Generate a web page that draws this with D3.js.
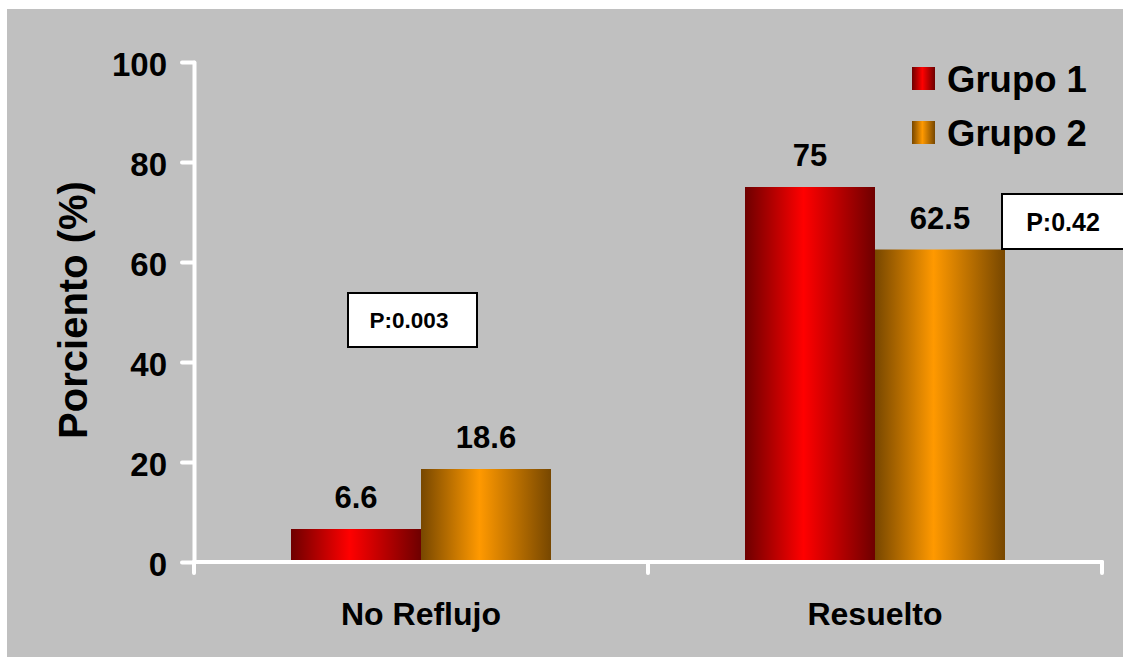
<!DOCTYPE html>
<html>
<head>
<meta charset="utf-8">
<script src="https://cdn.jsdelivr.net/npm/d3@7"></script>
<style>
  html, body { margin: 0; padding: 0; background: #ffffff; }
  svg { display: block; font-family: "Liberation Sans", Arial, sans-serif; font-weight: bold; }
</style>
</head>
<body>
<svg id="chart" width="1123" height="659"></svg>
<script>
// Categories, series and values
const categories = ["No Reflujo", "Resuelto"];
const seriesNames = ["Grupo 1", "Grupo 2"];
const grupo1 = [6.6, 75];
const grupo2 = [18.6, 62.5];
const yTicks = [0, 20, 40, 60, 80, 100];
const pLabels = ["P:0.003", "P:0.42"];

const svg = d3.select("#chart");

// Plot area background
svg.append("rect")
  .attr("x", 7).attr("y", 9)
  .attr("width", 1116).attr("height", 648)
  .attr("fill", "#c0c0c0");

// Horizontal shading: dark edges, bright centre
const defs = svg.append("defs");
const shades = [
  { id: "g1", dark: "#6e0000", light: "#ff0000" },
  { id: "g2", dark: "#774700", light: "#ff9900" }
];
shades.forEach(s => {
  const g = defs.append("linearGradient").attr("id", s.id)
    .attr("x1", "0%").attr("x2", "100%").attr("y1", "0%").attr("y2", "0%");
  g.append("stop").attr("offset", "0%").attr("stop-color", s.dark);
  g.append("stop").attr("offset", "45%").attr("stop-color", s.light);
  g.append("stop").attr("offset", "100%").attr("stop-color", s.dark);
});

// Scales
const y = d3.scaleLinear().domain([0, 100]).range([562, 62]);
const pad = 0.4273;
const x0 = d3.scaleBand().domain(categories).range([194, 1102])
  .paddingInner(pad).paddingOuter(pad / 2);
const x1 = d3.scaleBand().domain(seriesNames).range([0, x0.bandwidth()]);

const rows = categories.map((c, i) => ({
  cat: c,
  vals: [
    { s: seriesNames[0], v: grupo1[i], fill: "url(#g1)" },
    { s: seriesNames[1], v: grupo2[i], fill: "url(#g2)" }
  ]
}));

// Bars
const groups = svg.append("g").selectAll("g").data(rows).join("g")
  .attr("transform", d => `translate(${x0(d.cat)},0)`);

groups.selectAll("rect").data(d => d.vals).join("rect")
  .attr("x", d => x1(d.s))
  .attr("y", d => y(d.v))
  .attr("width", x1.bandwidth())
  .attr("height", d => y(0) - y(d.v))
  .attr("fill", d => d.fill);

// Value labels
groups.selectAll("text").data(d => d.vals).join("text")
  .attr("x", d => x1(d.s) + x1.bandwidth() / 2)
  .attr("y", d => y(d.v) - 21)
  .attr("text-anchor", "middle")
  .attr("font-size", 31)
  .attr("fill", "#000")
  .text(d => d.v);

// Y axis
const yAxis = svg.append("g")
  .attr("transform", `translate(${x0.range()[0]},0)`)
  .call(d3.axisLeft(y).tickValues(yTicks).tickSize(12).tickSizeOuter(0).tickPadding(15));
yAxis.select(".domain").attr("stroke", "#fff").attr("stroke-width", 4).attr("stroke-linecap", "round");
yAxis.selectAll(".tick line").attr("stroke", "#fff").attr("stroke-width", 4).attr("stroke-linecap", "round");
yAxis.selectAll(".tick text")
  .attr("fill", "#000").attr("font-size", 33).attr("font-weight", "bold")
  .attr("font-family", "Liberation Sans, Arial, sans-serif")
  .attr("dy", "0.4em");

// X axis line with ticks at category boundaries
const step = x0.step();
const bounds = [x0.range()[0]].concat(categories.map(c => x0(c) + x0.bandwidth() + step * pad / 2));
const xAxis = svg.append("g").attr("stroke", "#fff").attr("stroke-width", 4).attr("stroke-linecap", "round");
xAxis.append("line")
  .attr("x1", x0.range()[0]).attr("x2", x0.range()[1])
  .attr("y1", y(0)).attr("y2", y(0));
xAxis.selectAll("line.tk").data(bounds).join("line").attr("class", "tk")
  .attr("x1", d => d).attr("x2", d => d)
  .attr("y1", y(0)).attr("y2", y(0) + 11);

// Category labels
svg.append("g").selectAll("text").data(categories).join("text")
  .attr("x", d => x0(d) + x0.bandwidth() / 2)
  .attr("y", 625)
  .attr("text-anchor", "middle")
  .attr("font-size", 32)
  .attr("fill", "#000")
  .text(d => d);

// Y axis title
svg.append("text")
  .attr("transform", "translate(87,310) rotate(-90)")
  .attr("text-anchor", "middle")
  .attr("font-size", 40)
  .attr("fill", "#000")
  .text("Porciento (%)");

// Legend
const legend = svg.append("g");
seriesNames.forEach((s, i) => {
  const gy = 67 + i * 54;
  legend.append("rect")
    .attr("x", 912).attr("y", gy)
    .attr("width", 23).attr("height", 23)
    .attr("fill", `url(#${shades[i].id})`);
  legend.append("text")
    .attr("x", 947).attr("y", gy + 25)
    .attr("font-size", 36.5)
    .attr("fill", "#000")
    .text(s);
});

// P-value boxes
const boxes = [
  { x: 348, y: 293, w: 129, h: 54, t: pLabels[0], fs: 22.5 },
  { x: 1002, y: 194, w: 125, h: 55, t: pLabels[1], fs: 25 }
];
const pb = svg.append("g").selectAll("g").data(boxes).join("g");
pb.append("rect")
  .attr("x", d => d.x).attr("y", d => d.y)
  .attr("width", d => d.w).attr("height", d => d.h)
  .attr("fill", "#fff").attr("stroke", "#000").attr("stroke-width", 2);
pb.append("text")
  .attr("x", d => d.x + 61)
  .attr("y", d => d.y + d.h / 2 + d.fs * 0.36)
  .attr("text-anchor", "middle")
  .attr("font-size", d => d.fs)
  .attr("fill", "#000")
  .text(d => d.t);
</script>
</body>
</html>
